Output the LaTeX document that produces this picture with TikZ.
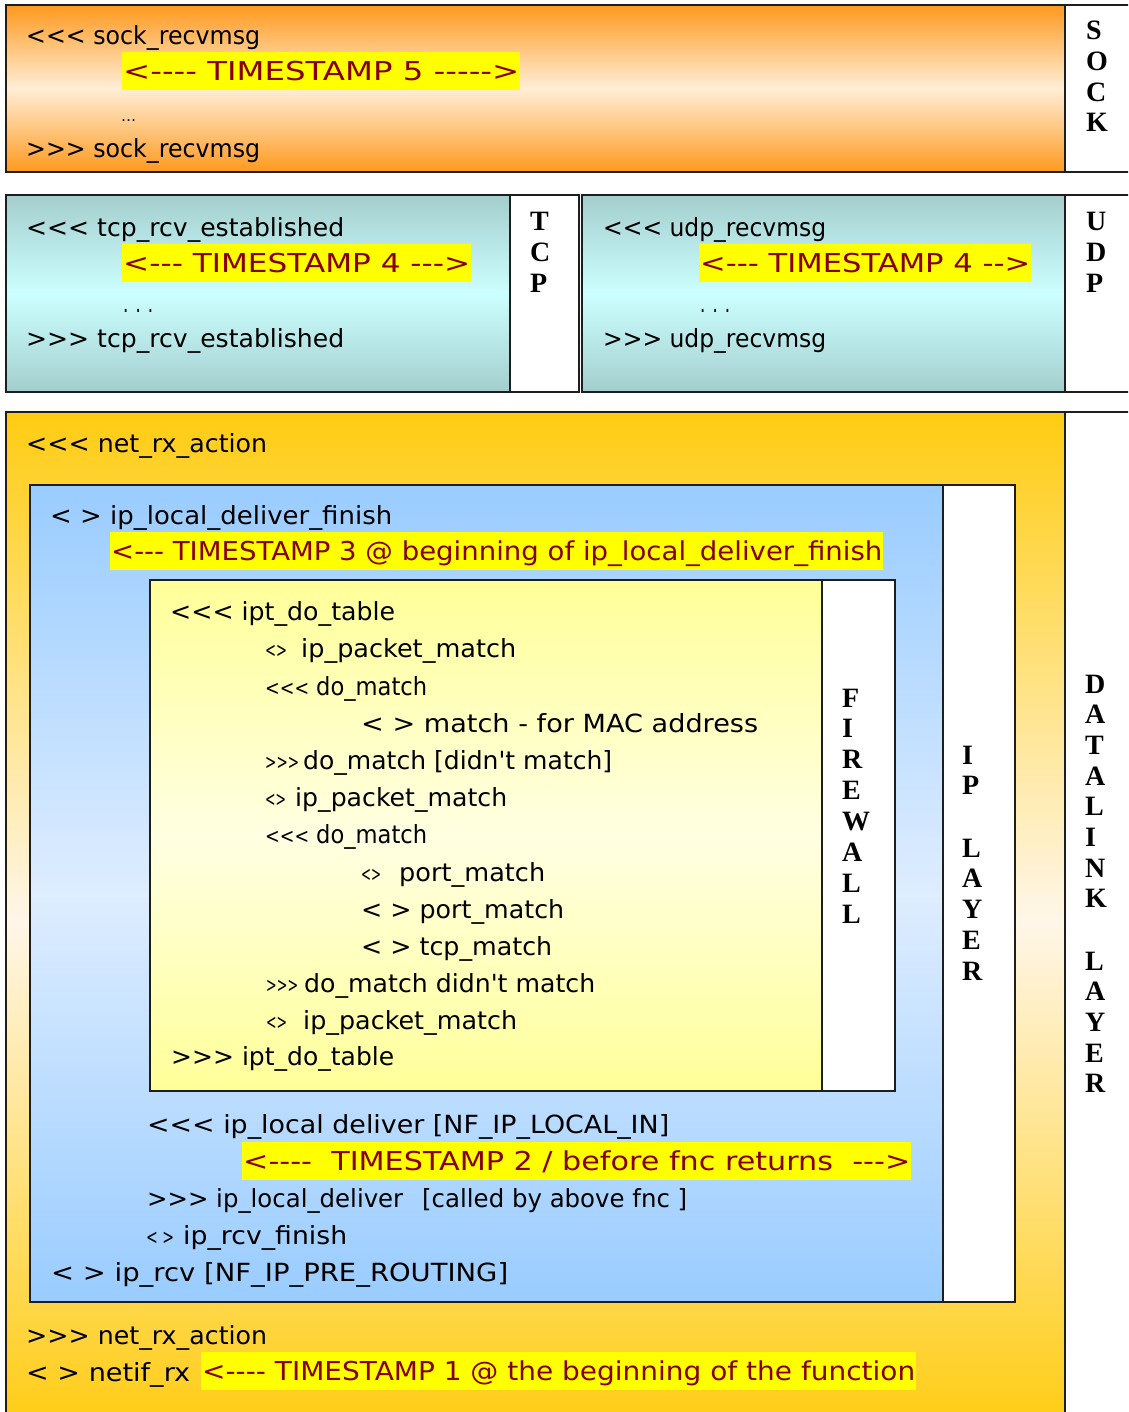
\documentclass[tikz,border=0pt]{standalone}
\usepackage{fontspec}
\usepackage{graphicx}
\newfontfamily\tfont{DejaVu Sans}
\newfontfamily\lfont{Liberation Serif}
% stretch a text horizontally to a given width, keeping its height
\newcommand\fitw[2]{\resizebox{#1pt}{\height}{#2}}
\definecolor{orangeedge}{RGB}{255,153,30}
\definecolor{orangemid}{RGB}{255,238,214}
\definecolor{tealedge}{RGB}{164,206,206}
\definecolor{tealmid}{RGB}{204,255,255}
\definecolor{goldedge}{RGB}{255,204,18}
\definecolor{goldmid}{RGB}{255,246,232}
\definecolor{blueedge}{RGB}{153,204,255}
\definecolor{bluemid}{RGB}{222,237,255}
\definecolor{fwedge}{RGB}{255,255,153}
\definecolor{fwmid}{RGB}{255,255,226}
\definecolor{hlyellow}{RGB}{255,255,0}
\definecolor{tsred}{RGB}{135,0,0}
\definecolor{frame}{RGB}{30,30,30}
\begin{document}
\begin{tikzpicture}[x=1pt,y=-1pt,
  box/.style={draw=frame,line width=2pt},
  txt/.style={anchor=west,inner sep=0pt,text height=19pt,text depth=0pt,
    font=\tfont\fontsize{25}{30}\selectfont},
  sml/.style={txt,font=\tfont\fontsize{21}{24}\selectfont},
  ts/.style={anchor=west,inner xsep=1pt,inner ysep=0pt,minimum height=38pt,
    text height=19pt,text depth=0pt,fill=hlyellow,text=tsred,
    font=\tfont\fontsize{26}{30}\selectfont},
  lbl/.style={anchor=west,inner sep=0pt,text height=18pt,text depth=0pt,
    font=\lfont\bfseries\fontsize{28}{30}\selectfont}]
\useasboundingbox (0,0) rectangle (1128,1412);
\clip (0,0) rectangle (1128,1412);
\fill[white] (0,0) rectangle (1128,1412);

% ---------- socket layer ----------
\shade[top color=orangeedge,bottom color=orangeedge,middle color=orangemid]
  (6,5) rectangle (1065,172);
\draw[box] (6,5) rectangle (1140,172);
\draw[box] (1065,5) -- (1065,172);

% ---------- TCP / UDP ----------
\shade[top color=tealedge,bottom color=tealedge,middle color=tealmid]
  (6,195) rectangle (510,392);
\draw[box] (6,195) rectangle (579,392);
\draw[box] (510,195) -- (510,392);
\shade[top color=tealedge,bottom color=tealedge,middle color=tealmid]
  (582,195) rectangle (1065,392);
\draw[box] (582,195) rectangle (1140,392);
\draw[box] (1065,195) -- (1065,392);

% ---------- data link layer ----------
\shade[top color=goldedge,bottom color=goldedge,middle color=goldmid]
  (6,412) rectangle (1065,1430);
\draw[box] (6,412) rectangle (1140,1430);
\draw[box] (1065,412) -- (1065,1430);

% ---------- IP layer ----------
\shade[top color=blueedge,bottom color=blueedge,middle color=bluemid]
  (30,485) rectangle (943,1302);
\fill[white] (943,485) rectangle (1015,1302);
\draw[box] (30,485) rectangle (1015,1302);
\draw[box] (943,485) -- (943,1302);

% ---------- firewall ----------
\shade[top color=fwedge,bottom color=fwedge,middle color=fwmid]
  (150,580) rectangle (822,1091);
\fill[white] (822,580) rectangle (895,1091);
\draw[box] (150,580) rectangle (895,1091);
\draw[box] (822,580) -- (822,1091);

% ---------- vertical layer names ----------
\foreach \c [count=\i from 0] in {S,O,C,K}
  \node[lbl] (sock-\i) at (1086,{31+30.6*\i}) {\c};
\foreach \c [count=\i from 0] in {T,C,P}
  \node[lbl] (tcp-\i) at (530,{222+30.8*\i}) {\c};
\foreach \c [count=\i from 0] in {U,D,P}
  \node[lbl] (udp-\i) at (1086,{222+30.8*\i}) {\c};
\foreach \c [count=\i from 0] in {F,I,R,E,W,A,L,L}
  \node[lbl] (fw-\i) at (842,{698+30.9*\i}) {\c};
\foreach \c [count=\i from 0] in {I,P}
  \node[lbl] (ip-\i) at (962,{755+30.9*\i}) {\c};
\foreach \c [count=\i from 0] in {L,A,Y,E,R}
  \node[lbl] (iplayer-\i) at (962,{848+30.9*\i}) {\c};
\foreach \c [count=\i from 0] in {D,A,T,A,L,I,N,K}
  \node[lbl] (dl-\i) at (1085,{684+30.7*\i}) {\c};
\foreach \c [count=\i from 0] in {L,A,Y,E,R}
  \node[lbl] (dllayer-\i) at (1085,{961+30.7*\i}) {\c};

% ---------- socket text ----------
\node[txt] (s1) at (26,35) {\fitw{234}{<<< sock\_recvmsg}};
\node[ts]  (s2) at (122,71) {\fitw{396}{<---- TIMESTAMP 5 ----->}};
\node[txt,font=\tfont\fontsize{15}{18}\selectfont] (s3) at (121,112) {…};
\node[txt] (s4) at (26,148) {\fitw{234}{>>> sock\_recvmsg}};

% ---------- TCP text ----------
\node[txt] (t1) at (26,227) {\fitw{318}{<<< tcp\_rcv\_established}};
\node[ts]  (t2) at (122,263) {\fitw{347}{<--- TIMESTAMP 4 --->}};
\node[txt] (t3) at (123,303) {\fitw{30}{. . .}};
\node[txt] (t4) at (26,338) {\fitw{318}{>>> tcp\_rcv\_established}};

% ---------- UDP text ----------
\node[txt] (u1) at (603,227) {\fitw{223}{<<< udp\_recvmsg}};
\node[ts]  (u2) at (699,263) {\fitw{330}{<--- TIMESTAMP 4 -->}};
\node[txt] (u3) at (700,303) {\fitw{30}{. . .}};
\node[txt] (u4) at (603,338) {\fitw{223}{>>> udp\_recvmsg}};

% ---------- data link / IP text ----------
\node[txt] (d1) at (26,443) {\fitw{241}{<<< net\_rx\_action}};
\node[txt] (i1) at (50,515) {\fitw{342}{< > ip\_local\_deliver\_finish}};
\node[ts]  (i2) at (110,551) {\fitw{771}{<--- TIMESTAMP 3 @ beginning of ip\_local\_deliver\_finish}};

% ---------- firewall text ----------
\node[txt] (f1) at (170,611) {\fitw{225}{<<< ipt\_do\_table}};
\node[sml] (f2a) at (265,648) {\fitw{22}{<>}};
\node[txt] (f2b) at (301,648) {\fitw{215}{ip\_packet\_match}};
\node[sml] (f3a) at (265,686) {\fitw{44}{<<<}};
\node[txt] (f3b) at (316,686) {\fitw{111}{do\_match}};
\node[txt] (f4) at (361,723) {\fitw{397}{< > match - for MAC address}};
\node[sml] (f5a) at (265,760) {\fitw{34}{>>>}};
\node[txt] (f5b) at (303,760) {\fitw{309}{do\_match [didn't match]}};
\node[sml] (f6a) at (265,797) {\fitw{21}{<>}};
\node[txt] (f6b) at (295,797) {\fitw{212}{ip\_packet\_match}};
\node[sml] (f7a) at (265,834) {\fitw{44}{<<<}};
\node[txt] (f7b) at (316,834) {\fitw{111}{do\_match}};
\node[sml] (f8a) at (361,872) {\fitw{20}{<>}};
\node[txt] (f8b) at (399,872) {\fitw{146}{port\_match}};
\node[txt] (f9) at (361,909) {\fitw{203}{< > port\_match}};
\node[txt] (f10) at (361,946) {\fitw{191}{< > tcp\_match}};
\node[sml] (f11a) at (266,983) {\fitw{32}{>>>}};
\node[txt] (f11b) at (304,983) {\fitw{291}{do\_match didn't match}};
\node[sml] (f12a) at (266,1020) {\fitw{21}{<>}};
\node[txt] (f12b) at (303,1020) {\fitw{214}{ip\_packet\_match}};
\node[txt] (f13) at (171,1056) {\fitw{223}{>>> ipt\_do\_table}};

% ---------- IP text below the firewall ----------
\node[txt] (i3) at (147,1124) {\fitw{522}{<<< ip\_local deliver [NF\_IP\_LOCAL\_IN]}};
\node[ts]  (i4) at (242,1161) {\fitw{667}{<----\ \ TIMESTAMP 2 / before fnc returns\ \ --->}};
\node[txt] (i5a) at (147,1198) {\fitw{256}{>>> ip\_local\_deliver}};
\node[txt] (i5b) at (422,1198) {\fitw{265}{[called by above fnc ]}};
\node[sml] (i6a) at (146,1235) {\fitw{28}{< >}};
\node[txt] (i6b) at (183,1235) {\fitw{164}{ip\_rcv\_finish}};
\node[txt] (i7) at (51,1272) {\fitw{457}{< > ip\_rcv [NF\_IP\_PRE\_ROUTING]}};

% ---------- data link text at the bottom ----------
\node[txt] (d2) at (26,1335) {\fitw{241}{>>> net\_rx\_action}};
\node[txt] (d3) at (26,1372) {\fitw{164}{< > netif\_rx}};
\node[ts]  (d4) at (201,1371) {\fitw{713}{<---- TIMESTAMP 1 @ the beginning of the function}};
\end{tikzpicture}
\end{document}
